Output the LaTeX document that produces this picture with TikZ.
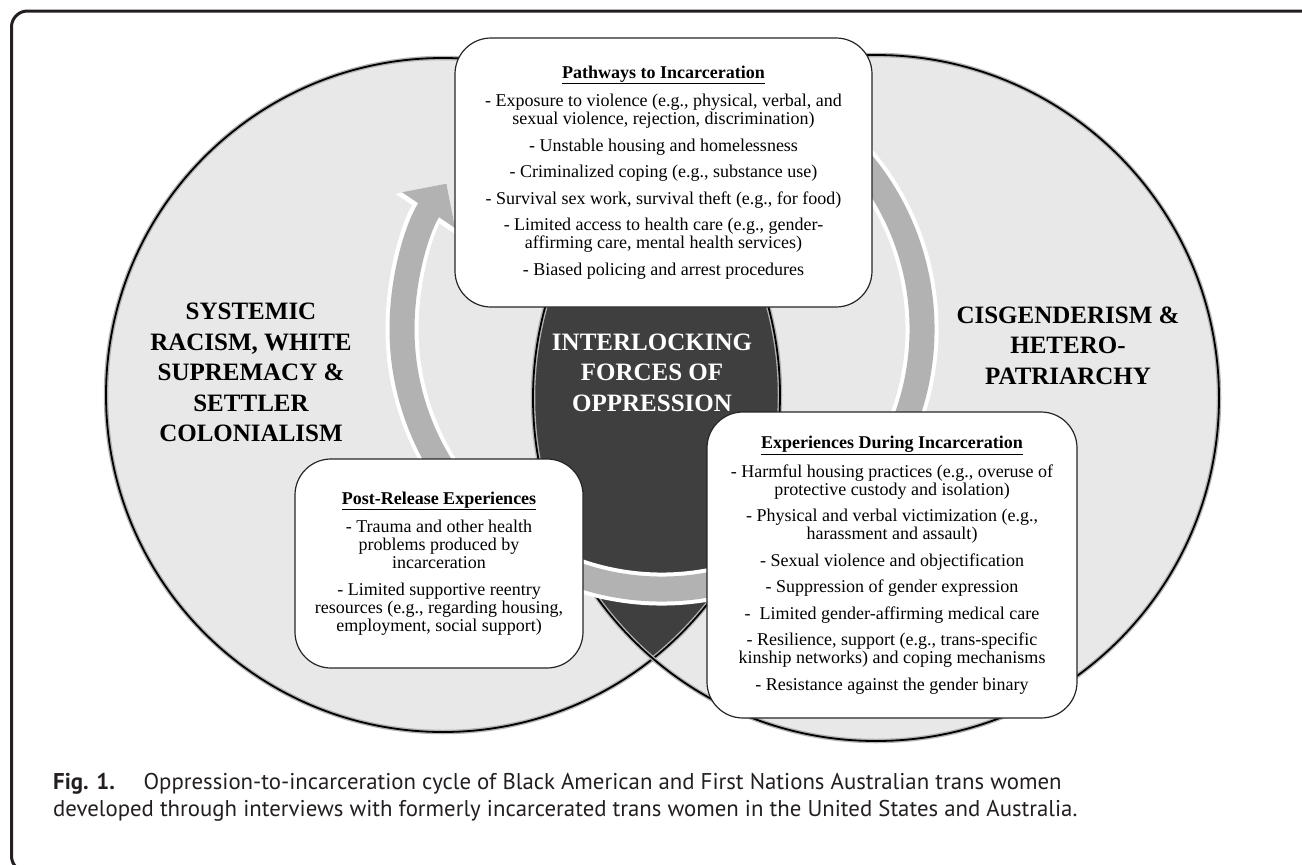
\documentclass[tikz,border=0pt]{standalone}
\usepackage{fontspec}
\setmainfont{Liberation Serif}
\newfontfamily\captionfont{PT Sans}
\usetikzlibrary{arrows.meta,positioning}

\definecolor{circlegray}{RGB}{232,232,232}
\definecolor{lensgray}{RGB}{63,63,63}
\definecolor{ringgray}{RGB}{178,178,178}
\definecolor{framegray}{RGB}{35,31,32}

\begin{document}
\begin{tikzpicture}[x=1pt,y=-1pt,
    infobox/.style={draw=black!85, fill=white, line width=1.2pt, rounded corners=36pt,
      inner sep=0pt, align=center, font=\fontsize{18}{18}\selectfont},
    biglabel/.style={align=center, inner sep=0pt, font=\fontsize{25}{30.5}\selectfont\bfseries},
    vennline/.style={black, line width=1.8pt}]
    \useasboundingbox (0,0) rectangle (1302,865);
    \fill[white] (0,0) rectangle (1302,865);

    % draw frame
    \draw[framegray, line width=3pt, rounded corners=16pt] (11.5,11) rectangle (1318,872);

    % circles of the two systems
    \coordinate (leftc) at (443,395);
    \coordinate (rightc) at (876,398);
    \fill[circlegray] (leftc) circle[radius=337];
    \fill[circlegray] (rightc) circle[radius=343];

    % overlap of the circles
    \begin{scope}
        \clip (leftc) circle[radius=337];
        \fill[lensgray] (rightc) circle[radius=343];
    \end{scope}

    \foreach \c/\r in {leftc/337, rightc/343}
    {
        \draw[black!30, line width=4.5pt] (\c) circle[radius=\r];
        \draw[vennline] (\c) circle[radius=\r];
    }

    % cycle arrow
    \coordinate (ringc) at (662,329);
    \draw[white, line width=33pt, -{Triangle[width=71pt,length=37pt]}]
        (ringc) ++(-60:260) arc[start angle=-60, end angle=214, radius=260];
    \draw[ringgray, line width=25pt, -{Triangle[width=62pt,length=32pt]}]
        (ringc) ++(-60:260) arc[start angle=-60, end angle=214, radius=260];

    % boxes
    \node[infobox, minimum width=417pt, minimum height=269pt] (pathways) at (663.5,172.5)
        {\underline{\textbf{Pathways to Incarceration}}\\[9pt]
         - Exposure to violence (e.g., physical, verbal, and\\
         sexual violence, rejection, discrimination)\\[8.5pt]
         - Unstable housing and homelessness\\[8.5pt]
         - Criminalized coping (e.g., substance use)\\[8.5pt]
         - Survival sex work, survival theft (e.g., for food)\\[8.5pt]
         - Limited access to health care (e.g., gender-\\
         affirming care, mental health services)\\[8.5pt]
         - Biased policing and arrest procedures};

    \node[infobox, minimum width=288pt, minimum height=209pt] (postrelease) at (439,563.5)
        {\underline{\textbf{Post-Release Experiences}}\\[9pt]
         - Trauma and other health\\
         problems produced by\\
         incarceration\\[8.5pt]
         - Limited supportive reentry\\
         resources (e.g., regarding housing,\\
         employment, social support)};

    \node[infobox, minimum width=370pt, minimum height=306pt] (during) at (892,565)
        {\underline{\textbf{Experiences During Incarceration}}\\[9pt]
         - Harmful housing practices (e.g., overuse of\\
         protective custody and isolation)\\[8.5pt]
         - Physical and verbal victimization (e.g.,\\
         harassment and assault)\\[8.5pt]
         - Sexual violence and objectification\\[8.5pt]
         - Suppression of gender expression\\[8.5pt]
         -\ \ Limited gender-affirming medical care\\[8.5pt]
         - Resilience, support (e.g., trans-specific\\
         kinship networks) and coping mechanisms\\[8.5pt]
         - Resistance against the gender binary};

    % labels of the forces
    \node[biglabel] (racism) at (251,372.5)
        {SYSTEMIC\\ RACISM, WHITE\\ SUPREMACY \&\\ SETTLER\\ COLONIALISM};
    \node[biglabel] (cisgender) at (1068,345.5)
        {CISGENDERISM \&\\ HETERO-\\ PATRIARCHY};
    \node[biglabel, white] (forces) at (652,372.5)
        {INTERLOCKING\\ FORCES OF\\ OPPRESSION};

    % caption
    \node[anchor=north west, inner sep=0pt, align=left,
          font=\captionfont\fontsize{22.8}{27.5}\selectfont, color=framegray] (figcaption) at (53,773)
        {\textbf{Fig. 1.}\hspace{0.9em} Oppression-to-incarceration cycle of Black American and First Nations Australian trans women\\
         developed through interviews with formerly incarcerated trans women in the United States and Australia.};
\end{tikzpicture}
\end{document}
